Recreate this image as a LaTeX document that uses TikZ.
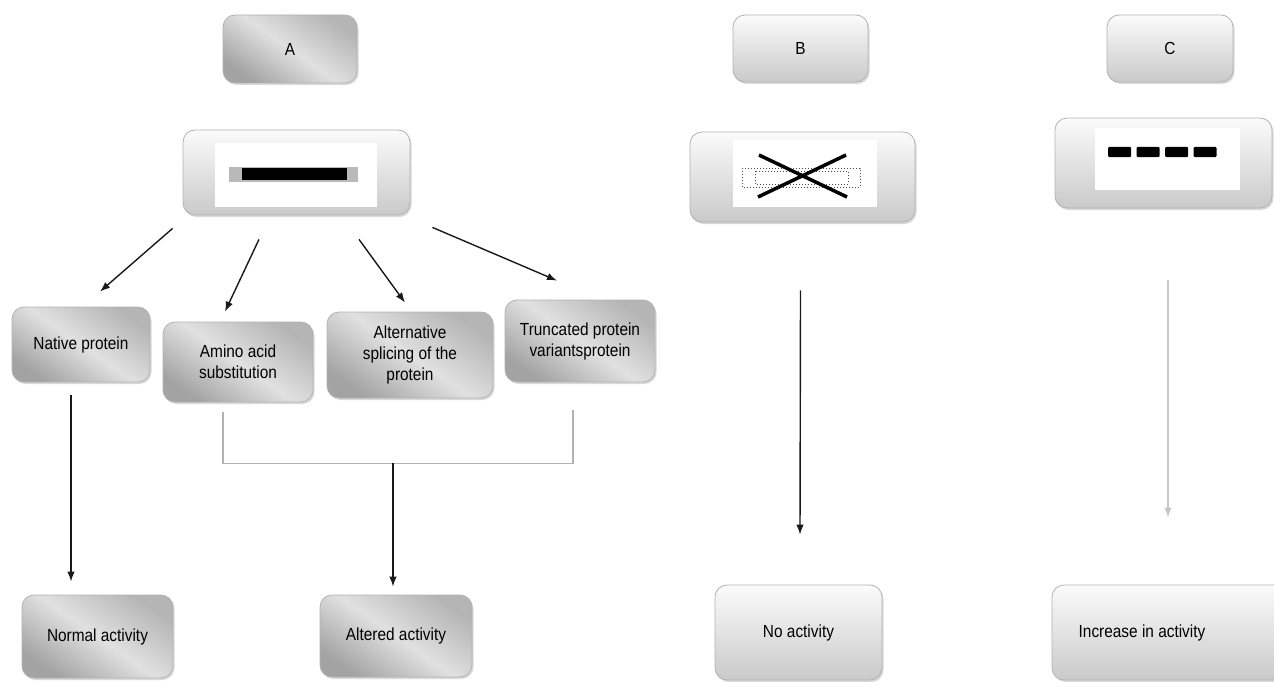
\documentclass[tikz,border=0pt]{standalone}
\usepackage{fontspec}
\setmainfont{Liberation Sans}[FakeStretch=0.88]
\usetikzlibrary{positioning, arrows.meta, shadows}

\tikzset{
  every node/.style={font=\fontsize{17.5}{21}\selectfont},
  box/.style={rounded corners=12pt, inner sep=2pt, align=center, draw=gray!60, line width=0.8pt,
    drop shadow={shadow xshift=1.5pt, shadow yshift=-2pt, opacity=.3}},
  metal/.style={box, top color=gray!58, bottom color=gray!72, middle color=gray!24, shading angle=-35},
  pale/.style={box, top color=gray!3, bottom color=gray!42},
  gene/.style={fill=white, inner sep=0pt},
  arr/.style={-{Latex[length=10pt, width=7.5pt]}, line width=1.4pt, draw=gray!20!black},
  brk/.style={line width=1.6pt, draw=gray!60},
}

\begin{document}
\begin{tikzpicture}[x=1pt, y=-1pt]
    \useasboundingbox (0,0) rectangle (1274,682);
    \clip (0,0) rectangle (1274,682);
    % column headers
    \node[metal, minimum width=134, minimum height=68] (hdrA) at (290,49) {A};
    \node[pale, minimum width=135, minimum height=67] (hdrB) at (800.5,48.5) {B};
    \node[pale, minimum width=126, minimum height=67] (hdrC) at (1170,48.5) {C};
    % gene boxes
    \node[pale, minimum width=227, minimum height=85] (geneA) at (296.5,172.5) {};
    \node[gene, minimum width=162, minimum height=64] (wA) at (296,175) {};
    \fill[gray!55] (229,167) rectangle (358,182);
    \fill[black] (242,168) rectangle (347,180);
    \node[pale, minimum width=225, minimum height=90] (geneB) at (802.5,177) {};
    \node[gene, minimum width=144, minimum height=67] (wB) at (805,173.5) {};
    \draw[dotted, line width=1pt, gray!60!black] (742,168) rectangle (860,187);
    \draw[dotted, line width=1pt, gray!60!black] (755,171) rectangle (848,184);
    \draw[line width=3.5pt] (758,197) -- (846,155) (759,155) -- (847,197);
    \node[pale, minimum width=217, minimum height=90] (geneC) at (1163.5,163) {};
    \node[gene, minimum width=145, minimum height=62] (wC) at (1167.5,159) {};
    \foreach \x in {1108,1136.5,1165,1193.5}
        \fill[black, rounded corners=1pt] (\x,147) rectangle ++(23,10);
    % protein forms
    \node[metal, minimum width=138, minimum height=75] (native) at (81,344.5) {Native protein};
    \node[metal, minimum width=150, minimum height=80] (amino) at (238,362) {Amino acid\\substitution};
    \node[metal, minimum width=166, minimum height=86] (alt) at (410,355) {Alternative\\splicing of the\\protein};
    \node[metal, minimum width=150, minimum height=82] (trunc) at (580,341) {Truncated protein\\variantsprotein};
    % activities
    \node[metal, minimum width=151, minimum height=83] (normal) at (97.5,636.5) {Normal activity};
    \node[metal, minimum width=152, minimum height=82] (altered) at (396,636) {Altered activity};
    \node[pale, minimum width=167, minimum height=95] (noact) at (798.5,632.5) {No activity};
    \node[pale, minimum width=238, minimum height=95,
          label={[xshift=-29pt]center:Increase in activity}] (incr) at (1171,632.5) {};
    % connectors
    \draw[arr] ([shift={(-10,13)}]geneA.south west) -- ([shift={(19,-15)}]native.north);
    \draw[arr] ([shift={(-37.5,24)}]geneA.south) -- ([shift={(-13,-10)}]amino.north);
    \draw[arr] ([shift={(62.5,24)}]geneA.south) -- ([shift={(-5,-9)}]alt.north);
    \draw[arr] ([shift={(22,12)}]geneA.south east) -- ([shift={(-23,-19)}]trunc.north);
    \draw[arr] ([shift={(-10,13)}]native.south) -- ([shift={(-26.5,-13)}]normal.north);
    \draw[brk] ([shift={(-15,10)}]amino.south) -- ++(0,51) -| ([shift={(-7,28)}]trunc.south);
    \coordinate (join) at (393,463);
    \draw[arr] (join) -- ([shift={(-3,-8)}]altered.north);
    \draw[arr] ([shift={(-2,68)}]geneB.south) -- ([shift={(1.5,-50)}]noact.north);
    \draw[arr, draw=gray!45] ([shift={(4.5,72)}]geneC.south) -- ([shift={(-3,-67)}]incr.north);
\end{tikzpicture}
\end{document}
